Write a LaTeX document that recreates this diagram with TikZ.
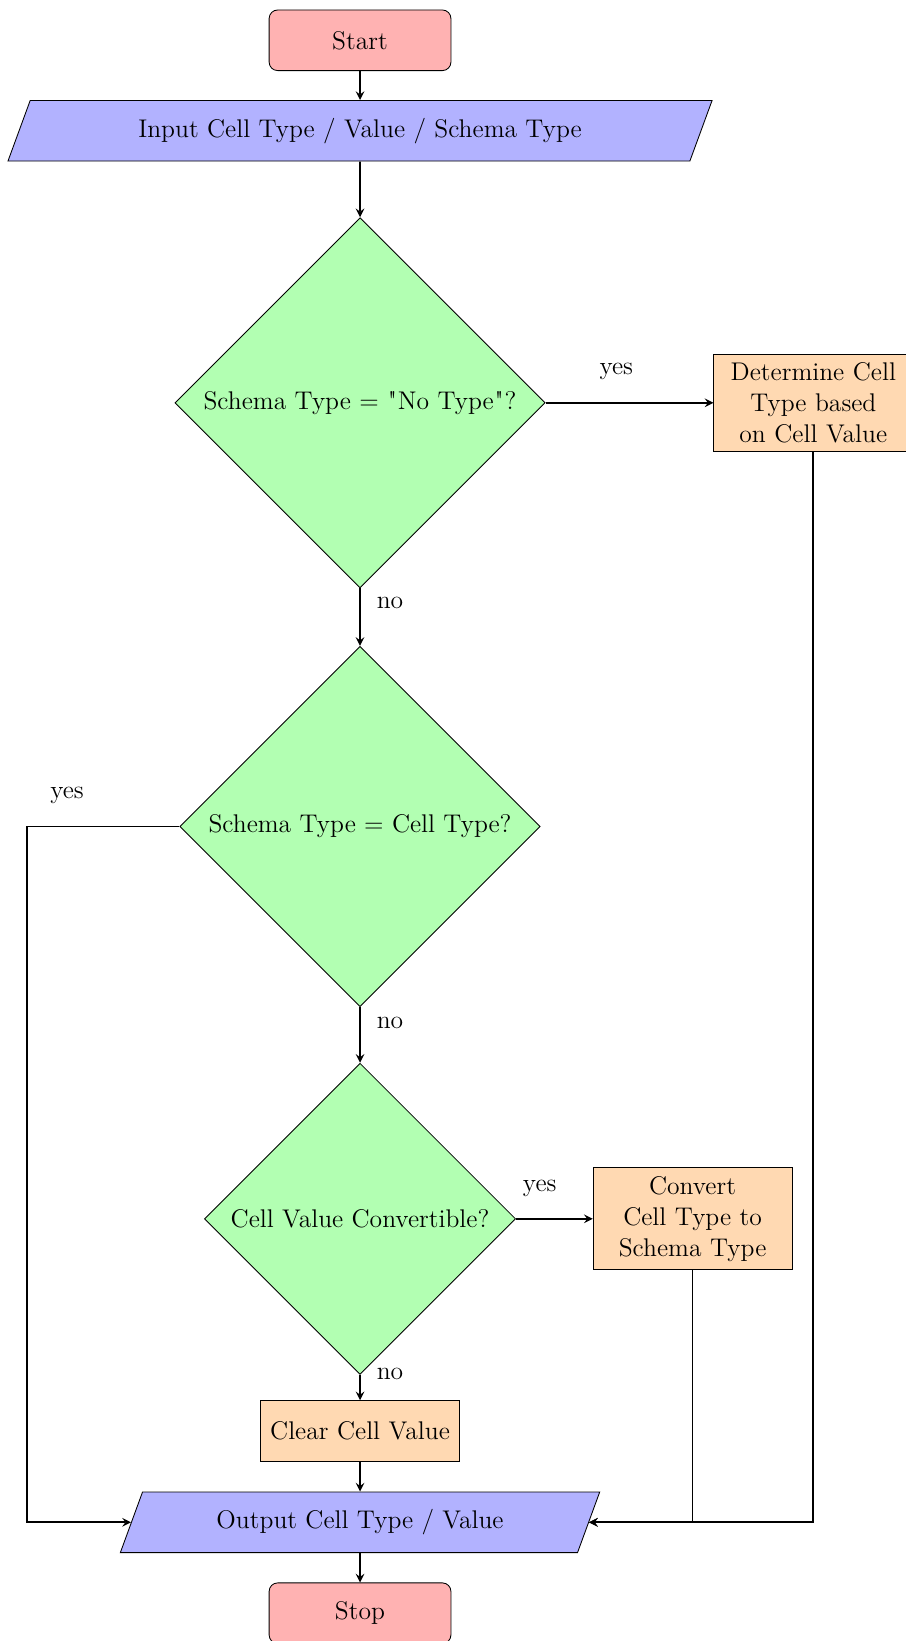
\documentclass[12pt,tikz,border=0pt]{standalone}
\usetikzlibrary{shapes.geometric, arrows}
\font\qfont="[lmroman12-regular.otf]" at 12pt
\newcommand{\sq}{{\kern0.4pt\qfont\char"22\kern0.4pt}}
\tikzset{
 startstop/.style={rectangle, rounded corners, minimum width=3cm, minimum height=1cm, text centered, draw=black, fill=red!30},
 io/.style={trapezium, trapezium left angle=70, trapezium right angle=110, trapezium stretches=true, minimum height=1cm, text centered, draw=black, fill=blue!30},
 process/.style={rectangle, minimum width=3cm, minimum height=1cm, text centered, text width=3cm, align=center, draw=black, fill=orange!30},
 decision/.style={diamond, minimum width=3cm, minimum height=1cm, text centered, draw=black, fill=green!30},
 arrow/.style={thick,->,>=stealth},
 lbl/.style={}
}
\begin{document}
\begin{tikzpicture}
\useasboundingbox (0,0) rectangle (14.934,-27.079);
\node[startstop] (start) at (5.941,-0.665) {Start};
\node[io, minimum width=11.66cm] (in) at (5.941,-2.158) {Input Cell Type / Value / Schema Type};
\node[decision, minimum width=6.08cm, minimum height=6.08cm] (d1) at (5.941,-6.647) {Schema Type = \sq No Type\sq?};
\node[process] (det) at (13.421,-6.647) {Determine Cell\\Type based\\on Cell Value};
\node[decision] (d2) at (5.941,-13.639) {Schema Type = Cell Type?};
\node[decision] (d3) at (5.941,-20.112) {Cell Value Convertible?};
\node[process] (conv) at (11.429,-20.112) {Convert\\Cell Type to\\Schema Type};
\node[process] (clr) at (5.941,-23.614) {Clear Cell Value};
\node[io, minimum width=7.92cm] (out) at (5.941,-25.12) {Output Cell Type / Value};
\node[startstop] (stop) at (5.941,-26.62) {Stop};
\coordinate (lft) at (0.449,-13.639);
\draw[arrow] (start) -- (in);
\draw[arrow] (in) -- (d1);
\draw[arrow] (d1) -- (det);
\draw[arrow] (d1) -- (d2);
\draw[arrow] (d2) -- (d3);
\draw[arrow] (d3) -- (conv);
\draw[arrow] (d3) -- (clr);
\draw[arrow] (clr) -- (out);
\draw[arrow] (out) -- (stop);
\draw[arrow] (det) |- (out);
\draw[arrow] (conv) |- (out);
\draw[arrow] (d2.west) -- (lft) |- (out);
\node[lbl] (y1) at (10.17,-6.133) {yes};
\node[lbl] (n1) at (6.436,-9.942) {no};
\node[lbl] (y2) at (1.106,-13.119) {yes};
\node[lbl] (n2) at (6.436,-16.873) {no};
\node[lbl] (y3) at (8.906,-19.616) {yes};
\node[lbl] (n3) at (6.436,-22.673) {no};
\end{tikzpicture}
\end{document}
